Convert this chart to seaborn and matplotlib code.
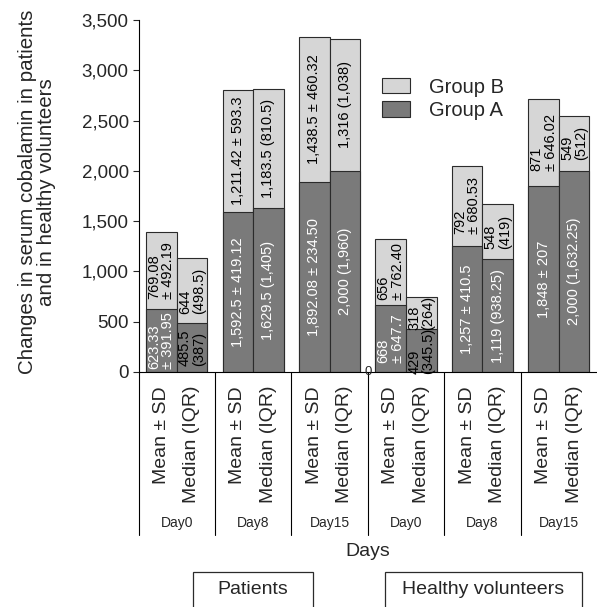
import numpy as np
import pandas as pd
import seaborn as sns
import matplotlib
matplotlib.use("Agg")
import matplotlib.pyplot as plt
from matplotlib.patches import Patch, Rectangle
from matplotlib.transforms import blended_transform_factory

# groups along the x axis (patients days, then healthy volunteers days)
groups = ["P Day0", "P Day8", "P Day15", "H Day0", "H Day8", "H Day15"]
day_labels = ["Day0", "Day8", "Day15", "Day0", "Day8", "Day15"]
stats = ["Mean ± SD", "Median (IQR)"]

# Group A (bottom, dark) and Group B (top, light) values
mean_a = [623.33, 1592.5, 1892.08, 668, 1257, 1848]
mean_b = [769.08, 1211.42, 1438.5, 656, 792, 871]
median_a = [485.5, 1629.5, 2000, 429, 1119, 2000]
median_b = [644, 1183.5, 1316, 318, 548, 549]

mean_a_text = ["623.33\n± 391.95", "1,592.5 ± 419.12", "1,892.08 ± 234.50",
               "668\n± 647.7", "1,257 ± 410.5", "1,848 ± 207"]
mean_b_text = ["769.08\n± 492.19", "1,211.42 ± 593.3", "1,438.5 ± 460.32",
               "656\n± 762.40", "792\n± 680.53", "871\n± 646.02"]
median_a_text = ["485.5\n(387)", "1,629.5 (1,405)", "2,000 (1,960)",
                 "429\n(345.5)", "1,119 (938.25)", "2,000 (1,632.25)"]
median_b_text = ["644\n(498.5)", "1,183.5 (810.5)", "1,316 (1,038)",
                 "318\n(264)", "548\n(419)", "549\n(512)"]
# labels drawn in black on the dark bars
median_a_dark_text = [True, False, False, True, False, False]

yticks = [0, 500, 1000, 1500, 2000, 2500, 3000, 3500]
ytick_labels = ["0", "500", "1,000", "1,500", "2,000", "2,500", "3,000", "3,500"]

dark = "#7a7a7a"
light = "#d6d6d6"
edge = "#2b2b2b"

rows = []
for i, g in enumerate(groups):
    rows.append({"group": g, "stat": stats[0], "a": mean_a[i], "b": mean_b[i]})
    rows.append({"group": g, "stat": stats[1], "a": median_a[i], "b": median_b[i]})
df = pd.DataFrame(rows)
df["total"] = df["a"] + df["b"]

sns.set_style("ticks")
plt.rcParams["font.family"] = ["Liberation Sans", "DejaVu Sans"]
bar_size = 10.5

fig = plt.figure(figsize=(5.97, 6.07), dpi=100)
ax = fig.add_axes([138.5 / 597, 235 / 607, 458.5 / 597, 352 / 607])

common = dict(x="group", hue="stat", order=groups, hue_order=stats,
              edgecolor=edge, linewidth=0.8, saturation=1, legend=False,
              errorbar=None, width=0.8, ax=ax)
sns.barplot(data=df, y="total", palette=[light, light], **common)
sns.barplot(data=df, y="a", palette=[dark, dark], **common)

ax.set_xlim(-0.5, 5.5)
ax.set_ylim(0, 3500)
ax.set_yticks(yticks)
ax.set_yticklabels(ytick_labels, fontsize=13.5)
ax.tick_params(axis="y", length=4, width=0.8, pad=3)
sns.despine(ax=ax, top=True, right=True)
for s in ["left", "bottom"]:
    ax.spines[s].set_linewidth(0.8)
    ax.spines[s].set_color("black")

# text inside the bars
a_texts = [mean_a_text, median_a_text]
b_texts = [mean_b_text, median_b_text]
b_vals = [mean_b, median_b]
a_vals = [mean_a, median_a]
for k in range(2):
    light_bars = ax.containers[k]
    dark_bars = ax.containers[2 + k]
    labs = ax.bar_label(dark_bars, labels=a_texts[k], label_type="center",
                        color="white", rotation=90, fontsize=bar_size,
                        multialignment="left", linespacing=1.0)
    for j, t in enumerate(labs):
        t.set_ha("center")
        t.set_va("center")
        if k == 1 and median_a_dark_text[j]:
            t.set_color("black")
    for j, p in enumerate(light_bars.patches):
        xc = p.get_x() + p.get_width() / 2
        yc = a_vals[k][j] + b_vals[k][j] / 2
        ax.text(xc, yc, b_texts[k][j], color="black", rotation=90,
                ha="center", va="center", fontsize=bar_size,
                multialignment="left", linespacing=1.0)

# x tick labels under each bar
centers = []
names = []
for k in range(2):
    for p in ax.containers[k].patches:
        centers.append(p.get_x() + p.get_width() / 2)
        names.append(stats[k])
ax.set_xticks(centers)
ax.set_xticklabels(names, rotation=90, va="top", ha="center", fontsize=14)
ax.tick_params(axis="x", length=0, pad=10)

# group separators and day labels
trans = blended_transform_factory(ax.transData, ax.transAxes)
for xs in np.arange(-0.5, 5.0, 1.0):
    ax.plot([xs, xs], [0, -0.463], color="black", lw=0.8,
            transform=trans, clip_on=False)
for i, d in enumerate(day_labels):
    ax.text(i, -0.429, d, transform=trans, ha="center", va="center", fontsize=10)
ax.text(2.5, 0, "0", ha="center", va="center", fontsize=9.5)

ax.set_xlabel("Days", fontsize=14)
ax.xaxis.set_label_coords(0.5, -0.511)
ax.xaxis.label.set_va("center")
ax.set_ylabel("Changes in serum cobalamin in patients\nand in healthy volunteers",
              fontsize=14.8, linespacing=1.0)
ax.yaxis.set_label_coords(-0.222, 0.511)
ax.yaxis.label.set_va("center")

ax.legend(handles=[Patch(facecolor=light, edgecolor=edge, lw=0.8, label="Group B"),
                   Patch(facecolor=dark, edgecolor=edge, lw=0.8, label="Group A")],
          loc="upper left", bbox_to_anchor=(0.492, 0.888), frameon=False,
          fontsize=14.5, handlelength=1.4, handleheight=0.82,
          labelspacing=0.22, handletextpad=0.9)

# group boxes at the bottom
for x0, x1, label in [(193, 313, "Patients"), (385, 582, "Healthy volunteers")]:
    fig.patches.append(Rectangle((x0 / 597, -0.01), (x1 - x0) / 597,
                                 (607 - 572) / 607 + 0.01, transform=fig.transFigure,
                                 facecolor="none", edgecolor=edge, lw=0.9))
    fig.text((x0 + x1) / 2 / 597, (607 - 589) / 607, label,
             ha="center", va="center", fontsize=14)

fig.savefig("out.png", dpi=100)
